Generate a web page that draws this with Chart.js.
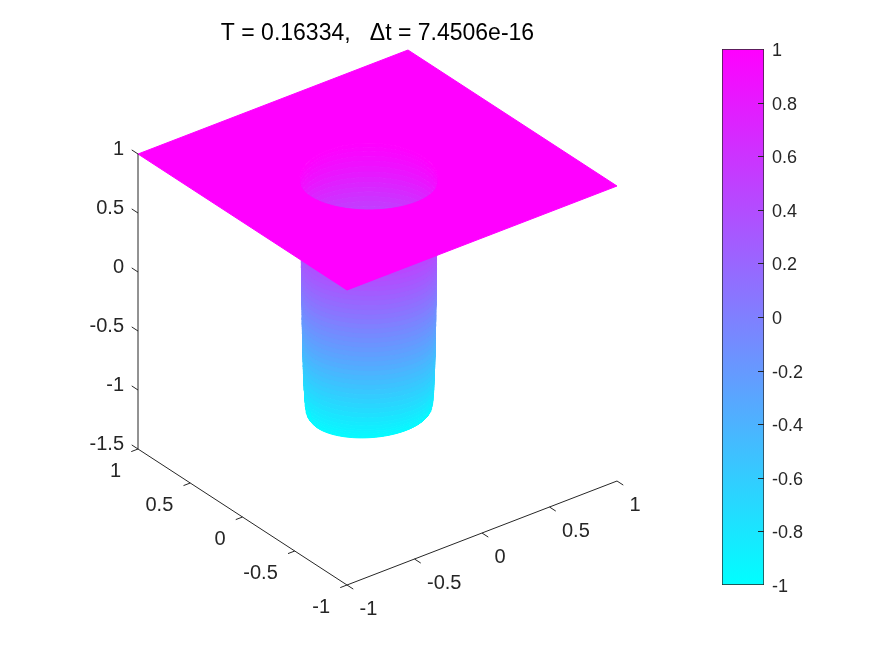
<!DOCTYPE html>
<html>
<head>
<meta charset="utf-8">
<style>
html,body{margin:0;padding:0;background:#fff;width:875px;height:656px;overflow:hidden}
canvas{position:absolute;top:0}
#surface{left:0}
#bar{left:700px}
</style>
<script src="https://cdn.jsdelivr.net/npm/chart.js@4/dist/chart.umd.min.js"></script>
</head>
<body>
<canvas id="surface" width="755" height="656"></canvas>
<canvas id="bar" width="175" height="656"></canvas>
<script>
const titleText = 'T = 0.16334,   Δt = 7.4506e-16';
const xTicks = [-1, -0.5, 0, 0.5, 1];
const yTicks = [-1, -0.5, 0, 0.5, 1];
const zTicks = [-1.5, -1, -0.5, 0, 0.5, 1];
const barTicks = [-1, -0.8, -0.6, -0.4, -0.2, 0, 0.2, 0.4, 0.6, 0.8, 1];

// Surface: height level and hole radius at that level.
const levelZ = [1, .98, .96, .93, .90, .86, .82, .78, .74, .70, .66, .62, .58, .54, .50, .46, .42, .38, .34, .30,
  .26, .22, .18, .14, .10, .06, .02, -.02, -.06, -.10, -.14, -.18, -.22, -.26, -.30, -.34, -.38, -.42, -.46, -.50,
  -.54, -.58, -.62, -.66, -.70, -.74, -.78, -.82, -.85, -.88, -.90, -.92, -.94, -.95, -.96, -.97];
const levelR = [.408, .406, .405, .404, .403, .402, .401, .400, .400, .399, .399, .399, .398, .398, .398, .397, .397, .397, .396, .396,
  .396, .395, .395, .395, .394, .394, .394, .393, .393, .392, .392, .391, .391, .390, .390, .389, .389, .388, .388, .387,
  .386, .385, .384, .383, .382, .381, .379, .377, .375, .373, .370, .367, .363, .359, .353, .345];
const lipStretch = [1.27, 1.22, 1.17, 1.12, 1.08, 1.05, 1.03, 1.01];
// Lean of the rim near the floor, for the last levels of levelZ.
const floorLean = [0, -.004, -.008, -.012, -.017, -.022, -.026, -.03, -.034, -.037, -.04, -.043];
const holeCentre = [-0.115, -0.067];
const holeMajor = [0.794, -0.607];
const holeMinor = [-0.516, -0.667];
const sheetCorners = [[-1, -1], [1, -1], [1, 1], [-1, 1], [-1, -1]];
const sheetZ = 1;

// Orthographic view of the axes box, in chart units.
const view = {ox: 347, oy: 585, xx: 135, xy: -52, yx: -104.5, yy: -68, zy: -118, zBase: -1.5};
const AXIS = '#262626';
const FONT = '"Liberation Sans", Arial, sans-serif';

function P(x, y, z) {
  return {
    x: view.ox + view.xx * (x + 1) + view.yx * (y + 1),
    y: view.oy + view.xy * (x + 1) + view.yy * (y + 1) + view.zy * (z - view.zBase)
  };
}
function cool(v) {
  const t = Math.max(0, Math.min(1, (v + 1) / 2));
  return `rgb(${Math.round(255 * t)},${Math.round(255 * (1 - t))},255)`;
}
function ring(r, z, th, stretch, lean) {
  const a = r * Math.cos(th) + (lean || 0) * Math.sin(th), b = r * Math.sin(th) * stretch;
  return P(holeCentre[0] + a * holeMajor[0] + b * holeMinor[0],
           holeCentre[1] + a * holeMajor[1] + b * holeMinor[1], z);
}
function arc(i, from, to, stretch) {
  const pts = [], n = 40;
  const lean = floorLean[i - (levelZ.length - floorLean.length)] || 0;
  for (let k = 0; k <= n; k++) pts.push(ring(levelR[i], levelZ[i], from + (to - from) * k / n, stretch, lean));
  return pts;
}
function poly(points, colour) {
  return {data: points, showLine: true, polygon: true, fill: false, backgroundColor: colour, borderColor: colour,
          borderWidth: 1, pointRadius: 0, tension: 0, clip: false};
}
function stroke(points) {
  return {data: points, showLine: true, fill: false, borderColor: AXIS, borderWidth: 1, pointRadius: 0, tension: 0, clip: false};
}

const painted = [];
// Far wall of the pit, then near wall, then the sheet with its opening.
for (let i = 0; i < levelZ.length - 1; i++) {
  const a = arc(i, Math.PI, 2 * Math.PI, lipStretch[i] || 1);
  const b = arc(i + 1, 2 * Math.PI, Math.PI, lipStretch[i + 1] || 1);
  painted.push(poly(a.concat(b), cool((levelZ[i] + levelZ[i + 1]) / 2)));
}
for (let i = 1; i < levelZ.length - 1; i++) {
  const a = arc(i, 0, Math.PI, 1);
  const b = arc(i + 1, Math.PI, 0, 1);
  painted.push(poly(a.concat(b), cool((levelZ[i] + levelZ[i + 1]) / 2)));
}
(function () {
  const pts = sheetCorners.map(c => P(c[0], c[1], sheetZ));
  const n = 120;
  for (let k = 0; k <= n; k++) {
    const th = Math.PI / 2 + 2 * Math.PI * k / n;
    pts.push(ring(levelR[0], sheetZ, th, Math.sin(th) < 0 ? lipStretch[0] : 1));
  }
  pts.push(P(sheetCorners[0][0], sheetCorners[0][1], sheetZ));
  painted.push(poly(pts, cool(sheetZ)));
})();

// Axes of the box.
const zMin = zTicks[0], zMax = zTicks[zTicks.length - 1];
painted.push(stroke([P(-1, -1, zMin), P(1, -1, zMin)]));
painted.push(stroke([P(-1, -1, zMin), P(-1, 1, zMin)]));
painted.push(stroke([P(-1, 1, zMin), P(-1, 1, zMax)]));
xTicks.forEach(v => painted.push(stroke([P(v, -1, zMin), P(v, -1.06, zMin)])));
yTicks.forEach(v => painted.push(stroke([P(-1, v, zMin), P(-1.05, v, zMin)])));
zTicks.forEach(v => painted.push(stroke([P(-1, 1, v), P(-1, 1.06, v)])));

// Chart.js paints the first dataset last, so hand them over back to front.
const datasets = painted.slice().reverse();

const polygonFill = {
  id: 'polygonFill',
  beforeDatasetDraw(chart, args) {
    const ds = chart.data.datasets[args.index];
    if (!ds.polygon) return;
    const c = chart.ctx, pts = args.meta.data;
    c.save();
    c.beginPath();
    pts.forEach((p, i) => i ? c.lineTo(p.x, p.y) : c.moveTo(p.x, p.y));
    c.closePath();
    c.fillStyle = ds.backgroundColor;
    c.fill();
    c.restore();
  }
};

const axisLabels = {
  id: 'axisLabels',
  afterDatasetsDraw(chart) {
    const c = chart.ctx, sx = chart.scales.x, sy = chart.scales.y;
    c.save();
    c.font = '20px ' + FONT;
    c.fillStyle = AXIS;
    c.textBaseline = 'middle';
    const put = (v, p, dx, dy, al) => {
      c.textAlign = al;
      c.fillText(String(v), sx.getPixelForValue(p.x) + dx, sy.getPixelForValue(p.y) + dy);
    };
    xTicks.forEach(v => put(v, P(v, -1, zMin), 12.5, 24, 'left'));
    yTicks.forEach(v => put(v, P(-1, v, zMin), -17, 22, 'right'));
    zTicks.forEach(v => put(v, P(-1, 1, v), -14, -5, 'right'));
    c.restore();
  }
};

new Chart(document.getElementById('surface'), {
  type: 'scatter',
  data: {datasets},
  plugins: [polygonFill, axisLabels],
  options: {
    responsive: false, animation: false, events: [],
    layout: {padding: 0},
    plugins: {
      legend: {display: false},
      tooltip: {enabled: false},
      title: {display: true, text: titleText, color: '#000', align: 'center',
        font: {family: FONT, size: 23, weight: 'normal', lineHeight: 1.2},
        padding: {top: 20, bottom: 1.4}}
    },
    scales: {
      x: {type: 'linear', display: false, min: 0, max: 755},
      y: {type: 'linear', display: false, min: 49, max: 656, reverse: true}
    }
  }
});

const inwardTicks = {
  id: 'inwardTicks',
  afterDatasetsDraw(chart) {
    const c = chart.ctx, s = chart.scales.y, right = chart.chartArea.right;
    c.save();
    c.strokeStyle = AXIS;
    c.lineWidth = 1;
    barTicks.slice(1, -1).forEach(v => {
      const y = Math.round(s.getPixelForValue(v)) + 0.5;
      c.beginPath();
      c.moveTo(right - 6, y);
      c.lineTo(right, y);
      c.stroke();
    });
    c.restore();
  }
};

new Chart(document.getElementById('bar'), {
  type: 'bar',
  data: {
    labels: [''],
    datasets: [{
      data: [[barTicks[0], barTicks[barTicks.length - 1]]],
      barPercentage: 1, categoryPercentage: 1,
      borderColor: AXIS, borderWidth: 1, borderSkipped: false,
      backgroundColor(ctx) {
        const area = ctx.chart.chartArea;
        if (!area) return '#ff00ff';
        const g = ctx.chart.ctx.createLinearGradient(0, area.bottom, 0, area.top);
        g.addColorStop(0, cool(-1));
        g.addColorStop(1, cool(1));
        return g;
      }
    }]
  },
  plugins: [inwardTicks],
  options: {
    responsive: false, animation: false, events: [],
    layout: {padding: {left: 22, top: 49, bottom: 71, right: 0}},
    plugins: {legend: {display: false}, tooltip: {enabled: false}},
    scales: {
      x: {display: false},
      y: {
        position: 'right', min: -1, max: 1,
        afterFit(s) { s.width = 111; },
        afterBuildTicks(s) { s.ticks = barTicks.map(v => ({value: v})); },
        grid: {display: false, drawTicks: false},
        border: {display: false},
        ticks: {autoSkip: false, padding: 8, color: AXIS, font: {family: FONT, size: 18, lineHeight: '4px'},
          callback: v => ['', String(v)]}
      }
    }
  }
});
</script>
</body>
</html>
